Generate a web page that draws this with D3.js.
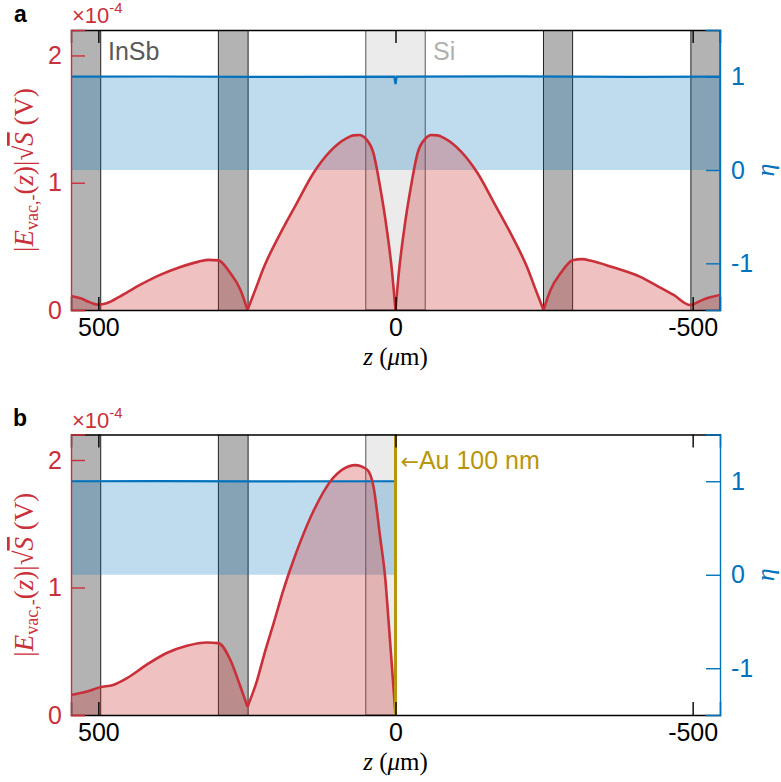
<!DOCTYPE html>
<html>
<head>
<meta charset="utf-8">
<script src="https://d3js.org/d3.v7.min.js"></script>
<style>
  body { margin: 0; background: #fff; }
  text { font-family: "Liberation Sans", Arial, sans-serif; }
  .serif { font-family: "Liberation Serif", "DejaVu Serif", serif; }
</style>
</head>
<body>
<div id="chart"></div>
<script>
// ---- data ----
// panel a: |E| (x 1e-4) vs z (um), listed left to right (z descending)
var zA = [546, 530, 513, 500, 486, 464, 430, 396, 363, 331, 314, 298, 278, 261, 249,
          235, 222, 194, 166, 138, 110, 82, 71, 60, 51, 37, 26, 14.5, 6, 0,
          -6, -14.5, -26, -37, -51, -60, -71, -82, -110, -138, -166, -194, -222, -235, -249,
          -261, -278, -298, -314, -331, -363, -412, -440, -468, -496, -510, -524, -546];
var eA = [0.11, 0.092, 0.058, 0.042, 0.053, 0.105, 0.197, 0.276, 0.336, 0.38, 0.394, 0.39, 0.29, 0.16, 0,
          0.17, 0.33, 0.60, 0.84, 1.076, 1.246, 1.35, 1.372, 1.375, 1.35, 1.23, 0.97, 0.63, 0.31, 0,
          0.31, 0.63, 0.97, 1.23, 1.35, 1.375, 1.372, 1.35, 1.246, 1.076, 0.84, 0.60, 0.33, 0.17, 0,
          0.16, 0.29, 0.39, 0.40, 0.385, 0.34, 0.26, 0.19, 0.118, 0.039, 0.065, 0.092, 0.118];
var cuspsA = [249, 0, -249];

// panel b: with Au mirror at z = 0
var zB = [546, 519, 497, 475, 452, 419, 385, 351, 317, 298, 278, 261, 249,
          233, 220, 205, 190, 172, 160, 138, 110, 87.5, 68, 48, 37, 26, 17, 11.8, 6, 0];
var eB = [0.157, 0.184, 0.218, 0.236, 0.289, 0.393, 0.486, 0.543, 0.569, 0.564, 0.433, 0.223, 0.065,
          0.27, 0.49, 0.72, 0.96, 1.21, 1.36, 1.60, 1.83, 1.93, 1.96, 1.925, 1.79, 1.40, 1.06, 0.746, 0.38, 0];
var cuspsB = [249];

// eta (right axis)
var etaZA = [546, 400, 200, 2, 0, -2, -200, -400, -546];
var etaA  = [1, 1.002, 0.998, 1, 0.92, 1, 1.003, 0.998, 1];
var etaZB = [546, 400, 200, 0];
var etaB  = [1, 1.002, 0.998, 1];

// layers (z ranges, um)
var insbA = [[496, 546], [248, 298], [-298, -249], [-546, -497]];
var siA = [[-50, 50]];
var insbB = [[496, 546], [248, 298]];
var siB = [[0, 50]];

var xTicks = [500, 0, -500];
var yTicks = [0, 1, 2];
var etaTicks = [-1, 0, 1];

// ---- layout ----
var W = 781, H = 782;
var left = 71, right = 720;
var red = "#c9303a", blue = "#0072bd", gold = "#b8960c";
var fs = 25;

var svg = d3.select("#chart").append("svg").attr("width", W).attr("height", H);

var x = d3.scaleLinear().domain([546, -546]).range([left, right]);
var fmt = function(d) { return String(d); };

function segments(zs, es, cusps) {
  var segs = [], cur = [];
  zs.forEach(function(z, i) {
    cur.push([z, es[i]]);
    if (cusps.indexOf(z) >= 0 && cur.length > 1) { segs.push(cur); cur = [[z, es[i]]]; }
  });
  if (cur.length > 1) segs.push(cur);
  return segs;
}

function panel(opt) {
  var top = opt.top, bottom = opt.bottom;
  var y = d3.scaleLinear().domain([0, 2.2]).range([bottom, top]);
  var yr = d3.scaleLinear().domain([-1.5, 1.5]).range([bottom, top]);
  var g = svg.append("g");

  var clipId = "clip" + opt.id;
  g.append("clipPath").attr("id", clipId).append("rect")
    .attr("x", left).attr("y", top).attr("width", right - left).attr("height", bottom - top);
  var plot = g.append("g").attr("clip-path", "url(#" + clipId + ")");

  // layers
  plot.selectAll(".si").data(opt.si).enter().append("rect")
    .attr("x", function(d) { return x(d[1]); })
    .attr("width", function(d) { return x(d[0]) - x(d[1]); })
    .attr("y", top).attr("height", bottom - top)
    .attr("fill", "#ebebeb").attr("stroke", "#555").attr("stroke-width", 1);
  plot.selectAll(".insb").data(opt.insb).enter().append("rect")
    .attr("x", function(d) { return x(d[1]); })
    .attr("width", function(d) { return x(d[0]) - x(d[1]); })
    .attr("y", top - 2).attr("height", bottom - top + 4)
    .attr("fill", "#b3b3b3").attr("stroke", "#222").attr("stroke-width", 1);

  // eta fill + E fill
  var etaPts = opt.etaZ.map(function(z, i) { return [z, opt.eta[i]]; });
  plot.append("path").datum(etaPts)
    .attr("d", d3.area().x(function(d) { return x(d[0]); })
      .y0(yr(0)).y1(function(d) { return yr(d[1]); }))
    .attr("fill", blue).attr("fill-opacity", 0.25);

  var segs = segments(opt.z, opt.e, opt.cusps);
  var area = d3.area().curve(d3.curveMonotoneX)
    .x(function(d) { return x(d[0]); }).y0(y(0)).y1(function(d) { return y(d[1]); });
  var line = d3.line().curve(d3.curveMonotoneX)
    .x(function(d) { return x(d[0]); }).y(function(d) { return y(d[1]); });
  plot.selectAll(".ef").data(segs).enter().append("path")
    .attr("d", area).attr("fill", "#cc3333").attr("fill-opacity", 0.3);

  plot.append("path").datum(etaPts)
    .attr("d", d3.line().x(function(d) { return x(d[0]); }).y(function(d) { return yr(d[1]); }))
    .attr("fill", "none").attr("stroke", blue).attr("stroke-width", 2.2);

  plot.selectAll(".el").data(segs).enter().append("path")
    .attr("d", line).attr("fill", "none").attr("stroke", red)
    .attr("stroke-width", 2.6).attr("stroke-linejoin", "round");

  if (opt.au) {
    g.append("line").attr("x1", x(0)).attr("x2", x(0)).attr("y1", top).attr("y2", bottom)
      .attr("stroke", gold).attr("stroke-width", 3);
    var au = g.append("text").attr("x", x(0) + 5).attr("y", top + 34).attr("font-size", fs)
      .attr("fill", gold);
    au.append("tspan").attr("font-family", "DejaVu Sans").attr("font-size", 22).text("\u2190");
    au.append("tspan").text("Au 100 nm");
  }

  // axes
  var xb = g.append("g").attr("transform", "translate(0," + bottom + ")")
    .call(d3.axisBottom(x).tickValues(xTicks).tickSize(-13).tickPadding(8).tickFormat(fmt));
  var xt = g.append("g").attr("transform", "translate(0," + top + ")")
    .call(d3.axisTop(x).tickValues(xTicks).tickSize(-13).tickFormat(""));
  [xb, xt].forEach(function(a) {
    a.select(".domain").attr("stroke", "#000").attr("stroke-width", 1.4);
    a.selectAll(".tick line").attr("stroke", "#000").attr("stroke-width", 1.4);
  });
  xb.selectAll(".tick text").attr("font-size", fs).attr("fill", "#000")
    .attr("font-family", "Liberation Sans, Arial, sans-serif");

  var yl = g.append("g").attr("transform", "translate(" + left + ",0)")
    .call(d3.axisLeft(y).tickValues(yTicks).tickSize(-14).tickPadding(9).tickFormat(fmt));
  yl.select(".domain").attr("stroke", red).attr("stroke-width", 1.4);
  yl.selectAll(".tick line").attr("stroke", red).attr("stroke-width", 1.4);
  yl.selectAll(".tick text").attr("font-size", fs).attr("fill", red)
    .attr("font-family", "Liberation Sans, Arial, sans-serif");

  var yrA = g.append("g").attr("transform", "translate(" + right + ",0)")
    .call(d3.axisRight(yr).tickValues(etaTicks).tickSize(-14).tickPadding(11).tickFormat(fmt));
  yrA.select(".domain").attr("stroke", blue).attr("stroke-width", 1.4);
  yrA.selectAll(".tick line").attr("stroke", blue).attr("stroke-width", 1.4);
  yrA.selectAll(".tick text").attr("font-size", fs).attr("fill", blue)
    .attr("font-family", "Liberation Sans, Arial, sans-serif");

  // labels
  g.append("text").attr("x", opt.letterX).attr("y", top - 8.5).attr("font-size", 23)
    .attr("font-weight", "bold").text(opt.letter);

  var ex = g.append("text").attr("x", left + 1).attr("y", top - 7).attr("fill", red).attr("font-size", 22);
  ex.append("tspan").text("\u00d710");
  ex.append("tspan").attr("font-size", 15).attr("dy", -10).text("-4");

  if (opt.labels) {
    g.append("text").attr("x", 108).attr("y", top + 30).attr("font-size", fs)
      .attr("fill", "#595959").text("InSb");
    g.append("text").attr("x", 433).attr("y", top + 30).attr("font-size", fs)
      .attr("fill", "#b0b0b0").text("Si");
  }

  var xl = g.append("text").attr("class", "serif").attr("x", x(0)).attr("y", bottom + 55)
    .attr("text-anchor", "middle").attr("font-size", 25).attr("fill", "#000");
  xl.append("tspan").attr("font-style", "italic").text("z");
  xl.append("tspan").text(" (");
  xl.append("tspan").attr("font-style", "italic").text("\u03bc");
  xl.append("tspan").text("m)");

  var mid = (top + bottom) / 2;
  var ylab = g.append("text").attr("class", "serif")
    .attr("transform", "translate(33," + mid + ") rotate(-90)")
    .attr("text-anchor", "middle").attr("font-size", 27).attr("fill", red);
  ylab.append("tspan").text("|");
  ylab.append("tspan").attr("font-style", "italic").text("E");
  ylab.append("tspan").attr("font-size", 18).attr("dy", 5).text("vac,-");
  ylab.append("tspan").attr("dy", -5).text("(");
  ylab.append("tspan").attr("font-style", "italic").text("z");
  ylab.append("tspan").text(")|\u221a");
  ylab.append("tspan").attr("font-style", "italic").attr("text-decoration", "overline").text("S");
  ylab.append("tspan").text(" (V)");

  g.append("text").attr("class", "serif")
    .attr("transform", "translate(774," + mid + ") rotate(-90)")
    .attr("text-anchor", "middle").attr("font-size", 26).attr("font-style", "italic")
    .attr("fill", blue).text("\u03b7");
}

panel({ id: "a", top: 30, bottom: 310, letter: "a", letterX: 14, labels: true,
  z: zA, e: eA, cusps: cuspsA, etaZ: etaZA, eta: etaA, insb: insbA, si: siA, au: false });
panel({ id: "b", top: 434.5, bottom: 715, letter: "b", letterX: 13, labels: false,
  z: zB, e: eB, cusps: cuspsB, etaZ: etaZB, eta: etaB, insb: insbB, si: siB, au: true });
</script>
</body>
</html>
